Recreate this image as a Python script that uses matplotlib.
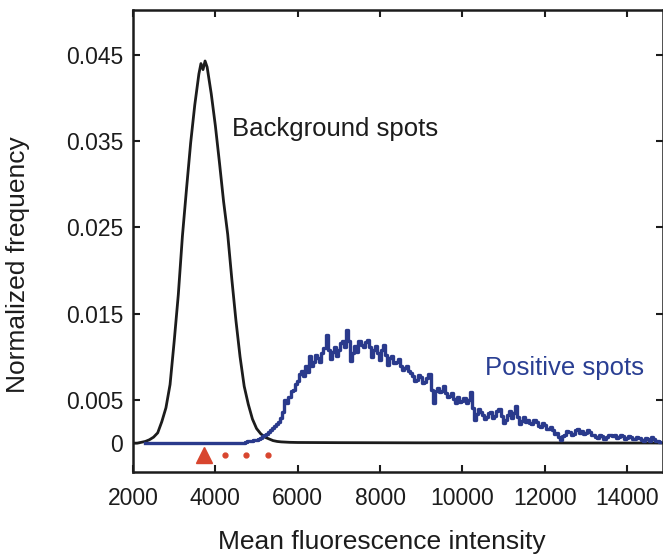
import matplotlib.pyplot as plt

plt.rcParams['font.family'] = ['Liberation Sans', 'DejaVu Sans']

# Background spots (black histogram)
bg_x = [2000, 2100, 2200, 2300, 2400, 2500, 2600, 2700, 2800, 2900,
        3000, 3100, 3200, 3300, 3400, 3500, 3600, 3650, 3700, 3750,
        3800, 3900, 4000, 4100, 4200, 4300, 4400, 4500, 4600, 4700,
        4800, 4900, 5000, 5100, 5200, 5300, 5400, 5500, 5600, 5800,
        6000, 7000, 8000, 9000, 10000, 11000, 12000, 13000, 14000, 14870]
bg_y = [0.0, 0.0, 0.0001, 0.0002, 0.0004, 0.0007, 0.0012, 0.0025, 0.0041, 0.0068,
        0.0118, 0.0172, 0.0240, 0.0295, 0.0348, 0.0392, 0.0428, 0.0440, 0.0433, 0.0443,
        0.0436, 0.0405, 0.0368, 0.0325, 0.0280, 0.0242, 0.0190, 0.0142, 0.0100, 0.0066,
        0.0045, 0.0028, 0.0017, 0.0011, 0.0007, 0.0005, 0.0003, 0.0002, 0.00015, 0.0001,
        0.00008, 0.00006, 0.00005, 0.00004, 0.00004, 0.00003, 0.00003, 0.00002, 0.00002, 0.00002]

# Positive spots (blue histogram), bins of 50 from 4700 to 14800
pos_x = [2300] + list(range(4700, 14850, 50))
pos_y = [0.0,
         0.0000, 0.0001, 0.0002, 0.0002, 0.0003, 0.0004, 0.0004, 0.0005, 0.0006, 0.0008,
         0.0009, 0.0011, 0.0013, 0.0015, 0.0018, 0.0020, 0.0022, 0.0025, 0.0029, 0.0036,
         0.0050, 0.0047, 0.0054, 0.0060, 0.0062, 0.0069, 0.0072, 0.0080, 0.0084, 0.0078,
         0.0089, 0.0083, 0.0101, 0.0090, 0.0094, 0.0102, 0.0099, 0.0094, 0.0104, 0.0110,
         0.0125, 0.0108, 0.0097, 0.0106, 0.0112, 0.0101, 0.0108, 0.0116, 0.0119, 0.0112,
         0.0131, 0.0118, 0.0095, 0.0104, 0.0113, 0.0106, 0.0119, 0.0114, 0.0111, 0.0117,
         0.0120, 0.0112, 0.0100, 0.0108, 0.0113, 0.0104, 0.0096, 0.0108, 0.0114, 0.0102,
         0.0091, 0.0099, 0.0101, 0.0093, 0.0094, 0.0097, 0.0090, 0.0085, 0.0087, 0.0090,
         0.0084, 0.0081, 0.0078, 0.0072, 0.0073, 0.0079, 0.0077, 0.0070, 0.0071, 0.0075,
         0.0080, 0.0062, 0.0046, 0.0060, 0.0064, 0.0059, 0.0061, 0.0066, 0.0058, 0.0054,
         0.0055, 0.0058, 0.0051, 0.0047, 0.0053, 0.0048, 0.0049, 0.0052, 0.0046, 0.0050,
         0.0059, 0.0041, 0.0027, 0.0034, 0.0040, 0.0036, 0.0033, 0.0028, 0.0030, 0.0035,
         0.0036, 0.0029, 0.0031, 0.0037, 0.0040, 0.0031, 0.0023, 0.0027, 0.0033, 0.0037,
         0.0029, 0.0035, 0.0043, 0.0030, 0.0022, 0.0026, 0.0030, 0.0024, 0.0027, 0.0023,
         0.0022, 0.0027, 0.0025, 0.0020, 0.0019, 0.0023, 0.0021, 0.0017, 0.0016, 0.0019,
         0.0015, 0.0011, 0.0012, 0.0007, 0.0004, 0.0008, 0.0010, 0.0014, 0.0013, 0.0010,
         0.0011, 0.0015, 0.0017, 0.0012, 0.0014, 0.0011, 0.0012, 0.0015, 0.0013, 0.0009,
         0.0009, 0.0007, 0.0006, 0.0009, 0.0008, 0.0005, 0.0007, 0.0010, 0.0010, 0.0008,
         0.0009, 0.0006, 0.0007, 0.0009, 0.0008, 0.0005, 0.0006, 0.0008, 0.0007, 0.0005,
         0.0005, 0.0007, 0.0006, 0.0004, 0.0003, 0.0006, 0.0005, 0.0003, 0.0007, 0.0005,
         0.0002, 0.0003, 0.0001]

# red markers below the baseline
tri_x = [3735]
dot_x = [4235, 4745, 5275]
marker_y = -0.0014

xticks = [2000, 4000, 6000, 8000, 10000, 12000, 14000]
yticks = [0, 0.005, 0.015, 0.025, 0.035, 0.045]
ytick_labels = ['0', '0.005', '0.015', '0.025', '0.035', '0.045']

fig = plt.figure(figsize=(6.63, 5.60), dpi=100)
ax = fig.add_axes([0.2006, 0.157, 0.7994, 0.825])

ax.plot(bg_x, bg_y, color='#1c1c1c', lw=2.0)
ax.plot(pos_x, pos_y, color='#2a3a8c', lw=2.4, drawstyle='steps-mid')

ax.plot(tri_x, [marker_y] * len(tri_x), marker='^', ms=12, color='#d8452e', ls='none')
ax.plot(dot_x, [marker_y] * len(dot_x), marker='o', ms=3.5, color='#d8452e', ls='none')

ax.text(4400, 0.0364, 'Background spots', fontsize=18.5, color='#1c1c1c',
        va='center', ha='left')
ax.text(10540, 0.0087, 'Positive spots', fontsize=18.5, color='#2a3f93',
        va='center', ha='left')

ax.set_xlim(2000, 14870)
ax.set_ylim(-0.00335, 0.0502)
ax.set_xticks(xticks)
ax.set_xticklabels([str(t) for t in xticks])
ax.set_yticks(yticks)
ax.set_yticklabels(ytick_labels)

ax.tick_params(direction='in', length=5, width=1.5, labelsize=16.5,
               top=True, right=True, colors='#1c1c1c')
ax.tick_params(axis='x', pad=11)
ax.tick_params(axis='y', pad=7)
for s in ax.spines.values():
    s.set_linewidth(1.8)
    s.set_color('#1c1c1c')

ax.set_xlabel('Mean fluorescence intensity', fontsize=19, color='#1c1c1c')
ax.set_ylabel('Normalized frequency', fontsize=19, color='#1c1c1c')
ax.xaxis.set_label_coords(0.47, -0.125)
ax.yaxis.set_label_coords(-0.195, 0.45)

fig.savefig('out.png', dpi=100)
